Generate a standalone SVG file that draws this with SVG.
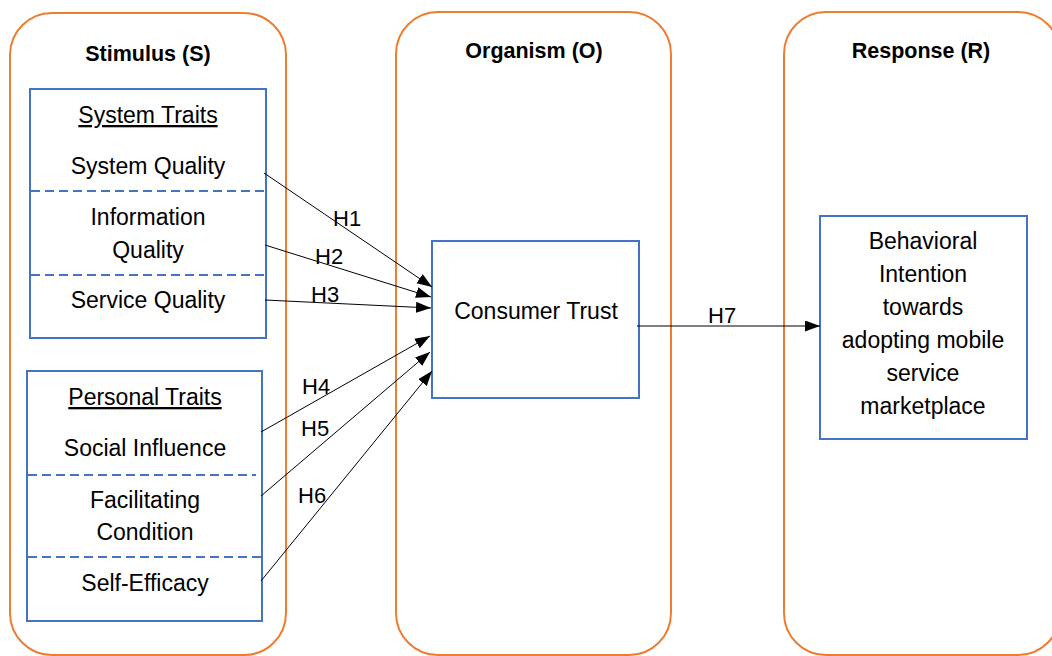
<svg xmlns="http://www.w3.org/2000/svg" width="1052" height="656" viewBox="0 0 1052 656">
<defs>
<style>
.cont{fill:none;stroke:#ED7D31;stroke-width:2}
.box{fill:#fff;stroke:#4472C4;stroke-width:2}
.dash{stroke:#4472C4;stroke-width:1.8;stroke-dasharray:9 5;fill:none}
.hd{font-family:"Liberation Sans",Arial,sans-serif;font-weight:bold;font-size:21.5px;fill:#000;text-anchor:middle}
.t{font-family:"Liberation Sans",Arial,sans-serif;font-size:23px;fill:#000;text-anchor:middle}
.u{text-decoration:underline}
.lbl{font-family:"Liberation Sans",Arial,sans-serif;font-size:22px;fill:#000}
.conn{stroke:#000;stroke-width:1;fill:none;marker-end:url(#ah)}
</style>
<marker id="ah" markerUnits="userSpaceOnUse" markerWidth="16" markerHeight="12" refX="15" refY="5.5" orient="auto" viewBox="0 0 16 12">
<path d="M0,0 L15,5.5 L0,11 z" fill="#000"/>
</marker>
</defs>
<rect width="1052" height="656" fill="#fff"/>

<g id="stimulus">
<rect class="cont" x="10" y="13" width="276" height="642" rx="42" ry="42"/>
<text class="hd" x="148" y="61">Stimulus (S)</text>
</g>
<g id="organism">
<rect class="cont" x="396" y="12" width="275" height="643" rx="42" ry="42"/>
<text class="hd" x="534" y="58">Organism (O)</text>
</g>
<g id="response">
<rect class="cont" x="784" y="12" width="276" height="643" rx="42" ry="42"/>
<text class="hd" x="921" y="58">Response (R)</text>
</g>

<g id="system-traits">
<rect class="box" x="30" y="89" width="236" height="249"/>
<text class="t u" x="148" y="123">System Traits</text>
<text class="t" x="148" y="174">System Quality</text>
<line class="dash" x1="31" y1="191" x2="265" y2="191"/>
<text class="t" x="148" y="225">Information</text>
<text class="t" x="148" y="258">Quality</text>
<line class="dash" x1="31" y1="275" x2="265" y2="275"/>
<text class="t" x="148" y="308">Service Quality</text>
</g>

<g id="personal-traits">
<rect class="box" x="27" y="371" width="235" height="250"/>
<text class="t u" x="145" y="405">Personal Traits</text>
<text class="t" x="145" y="456">Social Influence</text>
<line class="dash" x1="28" y1="475" x2="256" y2="475"/>
<text class="t" x="145" y="508">Facilitating</text>
<text class="t" x="145" y="540">Condition</text>
<line class="dash" x1="28" y1="557" x2="261" y2="557"/>
<text class="t" x="145" y="591">Self-Efficacy</text>
</g>

<g id="consumer-trust">
<rect class="box" x="432" y="241" width="207" height="157"/>
<text class="t" x="536" y="319">Consumer Trust</text>
</g>

<g id="behavioral-intention">
<rect class="box" x="820" y="216" width="207" height="223"/>
<text class="t" x="923" y="249">Behavioral</text>
<text class="t" x="923" y="282">Intention</text>
<text class="t" x="923" y="315">towards</text>
<text class="t" x="923" y="348">adopting mobile</text>
<text class="t" x="923" y="381">service</text>
<text class="t" x="923" y="414">marketplace</text>
</g>

<g id="connectors">
<line class="conn" x1="264" y1="173" x2="432" y2="287"/>
<line class="conn" x1="265" y1="245" x2="431" y2="297"/>
<line class="conn" x1="265" y1="300" x2="431" y2="308"/>
<line class="conn" x1="261" y1="432" x2="430" y2="336"/>
<line class="conn" x1="261" y1="496" x2="430" y2="352"/>
<line class="conn" x1="261" y1="581" x2="432" y2="371"/>
<line class="conn" x1="637" y1="326" x2="820" y2="326"/>
<text class="lbl" x="333" y="226">H1</text>
<text class="lbl" x="315" y="264">H2</text>
<text class="lbl" x="311" y="302">H3</text>
<text class="lbl" x="302" y="394">H4</text>
<text class="lbl" x="301" y="436">H5</text>
<text class="lbl" x="298" y="503">H6</text>
<text class="lbl" x="708" y="323">H7</text>
</g>
</svg>
